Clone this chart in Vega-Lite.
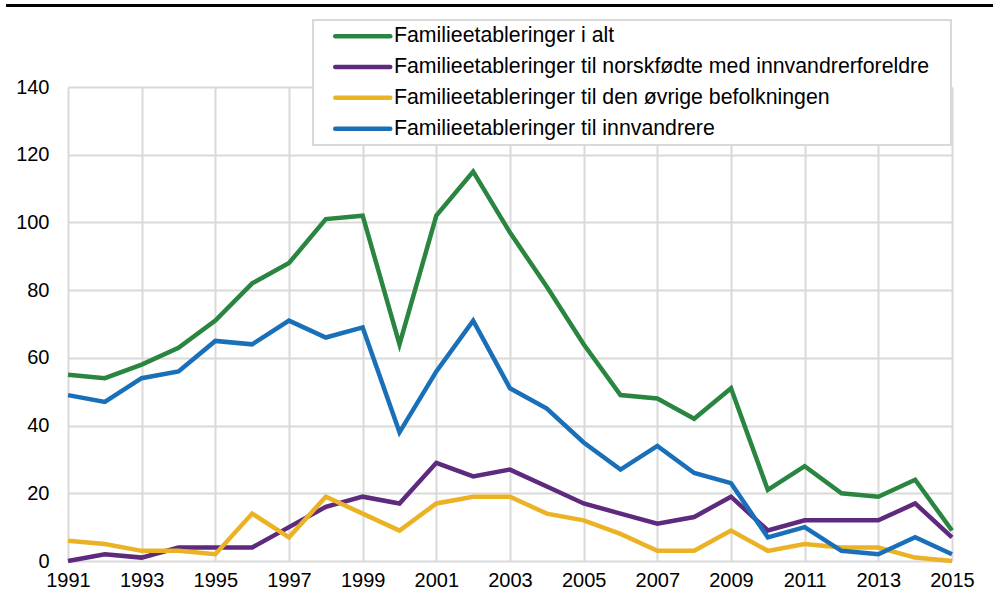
{
  "$schema": "https://vega.github.io/schema/vega-lite/v6.json",
  "autosize": "none",
  "width": 884,
  "height": 474,
  "padding": {"left": 68, "top": 87, "right": 41, "bottom": 42},
  "background": "white",
  "config": {
    "view": {"stroke": null},
    "font": "Liberation Sans",
    "axis": {
      "labelFont": "Liberation Sans",
      "labelFontSize": 20,
      "labelColor": "#000000",
      "gridColor": "#d9d9d9",
      "gridWidth": 2,
      "domain": false,
      "ticks": false,
      "tickSize": 0,
      "title": null
    },
    "legend": {
      "orient": "none",
      "legendX": 245,
      "legendY": -67,
      "direction": "vertical",
      "padding": 5.6,
      "strokeColor": "#d9d9d9",
      "strokeWidth": 2,
      "fillColor": "white",
      "labelFont": "Liberation Sans",
      "labelFontSize": 21.3,
      "labelColor": "#000000",
      "labelLimit": 0,
      "rowPadding": 8.8,
      "symbolType": "M1.2,0H12.2",
      "symbolSize": 100,
      "symbolStrokeWidth": 4.5,
      "labelOffset": 54.1,
      "titleOrient": "right",
      "titleFontSize": 10,
      "titlePadding": 16
    }
  },
  "data": {
    "values": [
      {"year": 1991, "series": "Familieetableringer i alt", "value": 55},
      {"year": 1992, "series": "Familieetableringer i alt", "value": 54},
      {"year": 1993, "series": "Familieetableringer i alt", "value": 58},
      {"year": 1994, "series": "Familieetableringer i alt", "value": 63},
      {"year": 1995, "series": "Familieetableringer i alt", "value": 71},
      {"year": 1996, "series": "Familieetableringer i alt", "value": 82},
      {"year": 1997, "series": "Familieetableringer i alt", "value": 88},
      {"year": 1998, "series": "Familieetableringer i alt", "value": 101},
      {"year": 1999, "series": "Familieetableringer i alt", "value": 102},
      {"year": 2000, "series": "Familieetableringer i alt", "value": 64},
      {"year": 2001, "series": "Familieetableringer i alt", "value": 102},
      {"year": 2002, "series": "Familieetableringer i alt", "value": 115},
      {"year": 2003, "series": "Familieetableringer i alt", "value": 97},
      {"year": 2004, "series": "Familieetableringer i alt", "value": 81},
      {"year": 2005, "series": "Familieetableringer i alt", "value": 64},
      {"year": 2006, "series": "Familieetableringer i alt", "value": 49},
      {"year": 2007, "series": "Familieetableringer i alt", "value": 48},
      {"year": 2008, "series": "Familieetableringer i alt", "value": 42},
      {"year": 2009, "series": "Familieetableringer i alt", "value": 51},
      {"year": 2010, "series": "Familieetableringer i alt", "value": 21},
      {"year": 2011, "series": "Familieetableringer i alt", "value": 28},
      {"year": 2012, "series": "Familieetableringer i alt", "value": 20},
      {"year": 2013, "series": "Familieetableringer i alt", "value": 19},
      {"year": 2014, "series": "Familieetableringer i alt", "value": 24},
      {"year": 2015, "series": "Familieetableringer i alt", "value": 9},
      {"year": 1991, "series": "Familieetableringer til norskfødte med innvandrerforeldre", "value": 0},
      {"year": 1992, "series": "Familieetableringer til norskfødte med innvandrerforeldre", "value": 2},
      {"year": 1993, "series": "Familieetableringer til norskfødte med innvandrerforeldre", "value": 1},
      {"year": 1994, "series": "Familieetableringer til norskfødte med innvandrerforeldre", "value": 4},
      {"year": 1995, "series": "Familieetableringer til norskfødte med innvandrerforeldre", "value": 4},
      {"year": 1996, "series": "Familieetableringer til norskfødte med innvandrerforeldre", "value": 4},
      {"year": 1997, "series": "Familieetableringer til norskfødte med innvandrerforeldre", "value": 10},
      {"year": 1998, "series": "Familieetableringer til norskfødte med innvandrerforeldre", "value": 16},
      {"year": 1999, "series": "Familieetableringer til norskfødte med innvandrerforeldre", "value": 19},
      {"year": 2000, "series": "Familieetableringer til norskfødte med innvandrerforeldre", "value": 17},
      {"year": 2001, "series": "Familieetableringer til norskfødte med innvandrerforeldre", "value": 29},
      {"year": 2002, "series": "Familieetableringer til norskfødte med innvandrerforeldre", "value": 25},
      {"year": 2003, "series": "Familieetableringer til norskfødte med innvandrerforeldre", "value": 27},
      {"year": 2004, "series": "Familieetableringer til norskfødte med innvandrerforeldre", "value": 22},
      {"year": 2005, "series": "Familieetableringer til norskfødte med innvandrerforeldre", "value": 17},
      {"year": 2006, "series": "Familieetableringer til norskfødte med innvandrerforeldre", "value": 14},
      {"year": 2007, "series": "Familieetableringer til norskfødte med innvandrerforeldre", "value": 11},
      {"year": 2008, "series": "Familieetableringer til norskfødte med innvandrerforeldre", "value": 13},
      {"year": 2009, "series": "Familieetableringer til norskfødte med innvandrerforeldre", "value": 19},
      {"year": 2010, "series": "Familieetableringer til norskfødte med innvandrerforeldre", "value": 9},
      {"year": 2011, "series": "Familieetableringer til norskfødte med innvandrerforeldre", "value": 12},
      {"year": 2012, "series": "Familieetableringer til norskfødte med innvandrerforeldre", "value": 12},
      {"year": 2013, "series": "Familieetableringer til norskfødte med innvandrerforeldre", "value": 12},
      {"year": 2014, "series": "Familieetableringer til norskfødte med innvandrerforeldre", "value": 17},
      {"year": 2015, "series": "Familieetableringer til norskfødte med innvandrerforeldre", "value": 7},
      {"year": 1991, "series": "Familieetableringer til den øvrige befolkningen", "value": 6},
      {"year": 1992, "series": "Familieetableringer til den øvrige befolkningen", "value": 5},
      {"year": 1993, "series": "Familieetableringer til den øvrige befolkningen", "value": 3},
      {"year": 1994, "series": "Familieetableringer til den øvrige befolkningen", "value": 3},
      {"year": 1995, "series": "Familieetableringer til den øvrige befolkningen", "value": 2},
      {"year": 1996, "series": "Familieetableringer til den øvrige befolkningen", "value": 14},
      {"year": 1997, "series": "Familieetableringer til den øvrige befolkningen", "value": 7},
      {"year": 1998, "series": "Familieetableringer til den øvrige befolkningen", "value": 19},
      {"year": 1999, "series": "Familieetableringer til den øvrige befolkningen", "value": 14},
      {"year": 2000, "series": "Familieetableringer til den øvrige befolkningen", "value": 9},
      {"year": 2001, "series": "Familieetableringer til den øvrige befolkningen", "value": 17},
      {"year": 2002, "series": "Familieetableringer til den øvrige befolkningen", "value": 19},
      {"year": 2003, "series": "Familieetableringer til den øvrige befolkningen", "value": 19},
      {"year": 2004, "series": "Familieetableringer til den øvrige befolkningen", "value": 14},
      {"year": 2005, "series": "Familieetableringer til den øvrige befolkningen", "value": 12},
      {"year": 2006, "series": "Familieetableringer til den øvrige befolkningen", "value": 8},
      {"year": 2007, "series": "Familieetableringer til den øvrige befolkningen", "value": 3},
      {"year": 2008, "series": "Familieetableringer til den øvrige befolkningen", "value": 3},
      {"year": 2009, "series": "Familieetableringer til den øvrige befolkningen", "value": 9},
      {"year": 2010, "series": "Familieetableringer til den øvrige befolkningen", "value": 3},
      {"year": 2011, "series": "Familieetableringer til den øvrige befolkningen", "value": 5},
      {"year": 2012, "series": "Familieetableringer til den øvrige befolkningen", "value": 4},
      {"year": 2013, "series": "Familieetableringer til den øvrige befolkningen", "value": 4},
      {"year": 2014, "series": "Familieetableringer til den øvrige befolkningen", "value": 1},
      {"year": 2015, "series": "Familieetableringer til den øvrige befolkningen", "value": 0},
      {"year": 1991, "series": "Familieetableringer til innvandrere", "value": 49},
      {"year": 1992, "series": "Familieetableringer til innvandrere", "value": 47},
      {"year": 1993, "series": "Familieetableringer til innvandrere", "value": 54},
      {"year": 1994, "series": "Familieetableringer til innvandrere", "value": 56},
      {"year": 1995, "series": "Familieetableringer til innvandrere", "value": 65},
      {"year": 1996, "series": "Familieetableringer til innvandrere", "value": 64},
      {"year": 1997, "series": "Familieetableringer til innvandrere", "value": 71},
      {"year": 1998, "series": "Familieetableringer til innvandrere", "value": 66},
      {"year": 1999, "series": "Familieetableringer til innvandrere", "value": 69},
      {"year": 2000, "series": "Familieetableringer til innvandrere", "value": 38},
      {"year": 2001, "series": "Familieetableringer til innvandrere", "value": 56},
      {"year": 2002, "series": "Familieetableringer til innvandrere", "value": 71},
      {"year": 2003, "series": "Familieetableringer til innvandrere", "value": 51},
      {"year": 2004, "series": "Familieetableringer til innvandrere", "value": 45},
      {"year": 2005, "series": "Familieetableringer til innvandrere", "value": 35},
      {"year": 2006, "series": "Familieetableringer til innvandrere", "value": 27},
      {"year": 2007, "series": "Familieetableringer til innvandrere", "value": 34},
      {"year": 2008, "series": "Familieetableringer til innvandrere", "value": 26},
      {"year": 2009, "series": "Familieetableringer til innvandrere", "value": 23},
      {"year": 2010, "series": "Familieetableringer til innvandrere", "value": 7},
      {"year": 2011, "series": "Familieetableringer til innvandrere", "value": 10},
      {"year": 2012, "series": "Familieetableringer til innvandrere", "value": 3},
      {"year": 2013, "series": "Familieetableringer til innvandrere", "value": 2},
      {"year": 2014, "series": "Familieetableringer til innvandrere", "value": 7},
      {"year": 2015, "series": "Familieetableringer til innvandrere", "value": 2}
    ]
  },
  "layer": [
    {
      "mark": {"type": "line", "strokeWidth": 4.5},
      "encoding": {
        "x": {
          "field": "year",
          "type": "quantitative",
          "scale": {"domain": [1991, 2015], "nice": false, "zero": false},
          "axis": {
            "values": [1991, 1992, 1993, 1994, 1995, 1996, 1997, 1998, 1999, 2000, 2001, 2002, 2003, 2004, 2005, 2006, 2007, 2008, 2009, 2010, 2011, 2012, 2013, 2014, 2015],
            "format": "d",
            "labelExpr": "datum.value % 2 == 1 ? datum.label : ''",
            "labelOverlap": false,
            "labelFlush": false,
            "labelPadding": 9
          }
        },
        "y": {
          "field": "value",
          "type": "quantitative",
          "scale": {"domain": [0, 140], "nice": false},
          "axis": {
            "values": [0, 20, 40, 60, 80, 100, 120, 140],
            "labelPadding": 19
          }
        },
        "color": {
          "field": "series",
          "type": "nominal",
          "sort": null,
          "scale": {
            "domain": [
              "Familieetableringer i alt",
              "Familieetableringer til norskfødte med innvandrerforeldre",
              "Familieetableringer til den øvrige befolkningen",
              "Familieetableringer til innvandrere"
            ],
            "range": ["#2a8541", "#5e2a7e", "#ecb225", "#1a70b8"]
          },
          "legend": {
            "title": " ",
            "symbolStrokeWidth": 4.5,
            "encode": {
              "symbols": {"update": {"strokeCap": {"value": "round"}}}
            }
          }
        }
      }
    },
    {
      "mark": {"type": "rule", "color": "#000000", "strokeWidth": 3, "clip": false},
      "encoding": {
        "x": {"datum": 1989.32, "type": "quantitative"},
        "x2": {"datum": 2016.2},
        "y": {"datum": 164.1, "type": "quantitative"}
      }
    }
  ]
}
